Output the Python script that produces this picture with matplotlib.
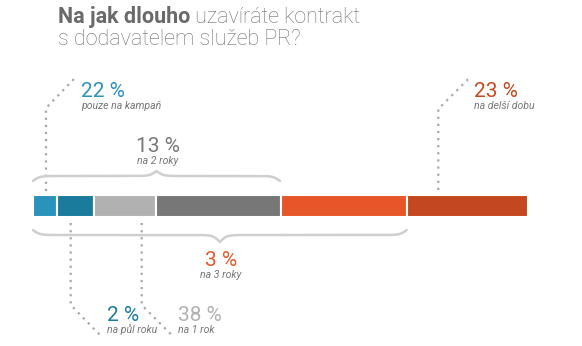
import numpy as np
import matplotlib
matplotlib.use("Agg")
import matplotlib.pyplot as plt

plt.rcParams['font.family'] = ['Roboto', 'DejaVu Sans']

# šířky úseků pruhu (v % délky pruhu) a jejich barvy
segment_widths = [4.8, 7.5, 12.5, 25.2, 25.5, 24.5]
segment_colors = ["#2a93ba", "#1b7b9c", "#b1b1b1", "#777777", "#e65628", "#c4481f"]

# popisky: hodnota, text, barva hodnoty
values = ["22 %", "2 %", "38 %", "13 %", "3 %", "23 %"]
labels = ["pouze na kampaň", "na půl roku", "na 1 rok", "na 2 roky", "na 3 roky", "na delší dobu"]
value_colors = ["#2a93ba", "#1b7b9c", "#b1b1b1", "#777777", "#e65628", "#c4481f"]

W, H = 582, 346
fig = plt.figure(figsize=(W / 100, H / 100), dpi=100)

# pruh
ax = fig.add_axes([33 / W, 0, 495 / W, 1])
ax.set_xlim(0, 100)
ax.set_ylim(H, 0)
ax.axis("off")
lefts = np.concatenate([[0], np.cumsum(segment_widths)[:-1]])
ax.barh(206, segment_widths, left=lefts, height=22, color=segment_colors,
        edgecolor="white", linewidth=1.5)

# vrstva pro texty a čáry (souřadnice v pixelech)
ov = fig.add_axes([0, 0, 1, 1])
ov.set_xlim(0, W)
ov.set_ylim(H, 0)
ov.axis("off")
ov.patch.set_alpha(0)

# nadpis
t1 = ov.text(58, 22.7, "Na jak dlouho", fontsize=15.5, fontweight="bold",
             color="#6a6a6a", va="baseline")
ov.annotate(" uzavíráte kontrakt", xy=(1, 22.7), xycoords=(t1, "data"),
            fontsize=15.5, fontweight="light", color="#707070", va="baseline")
ov.text(58, 45, "s dodavatelem služeb PR?", fontsize=15.5, fontweight="light",
        color="#707070", va="baseline")

dot = dict(color="#a8a8a8", lw=1.6, ls=(0, (1, 2.2)))


def leader(x_bar, y_bar, y_bend, x_end, y_end):
    ov.plot([x_bar, x_bar, x_end], [y_bar, y_bend, y_end], **dot)


def brace(x0, x1, flat, end, tip, beta=0.3):
    n = 601
    xs = np.linspace(x0, x1, n)
    half = xs[: n // 2 + 1]
    yh = (1 / (1 + np.exp(-beta * (half - half[0]))) +
          1 / (1 + np.exp(-beta * (half - half[-1]))))
    yb = np.concatenate([yh, yh[-2::-1]])
    ys = np.where(yb <= 1, flat + (1 - yb) * 2 * (end - flat),
                  flat + (yb - 1) * 2 * (tip - flat))
    ov.plot(xs, ys, color="#cfcfcf", lw=1.8, solid_capstyle="round")


def label(x, y, val, txt, col, ha="left"):
    ov.text(x, y, val, fontsize=15, color=col, ha=ha, va="baseline")
    ov.text(x, y + 12, txt, fontsize=7.6, style="italic", color="#777777",
            ha=ha, va="baseline")


# 22 % pouze na kampaň
leader(46, 191, 108, 75, 78)
label(81, 96.7, values[0], labels[0], value_colors[0])

# 2 % na půl roku
leader(70.7, 223, 305, 100, 335)
label(107, 320.7, values[1], labels[1], value_colors[1])

# 38 % na 1 rok
leader(141.7, 223, 305, 171.7, 335)
label(178, 320.7, values[2], labels[2], value_colors[2])

# 13 % na 2 roky
brace(33, 280, 176, 181, 171)
label(158, 151.7, values[3], labels[3], value_colors[3], ha="center")

# 3 % na 3 roky
brace(33, 406.7, 235, 230, 242)
label(221, 266, values[4], labels[4], value_colors[4], ha="center")

# 23 % na delší dobu
leader(438.3, 190, 109, 468.3, 79)
label(474, 96.7, values[5], labels[5], value_colors[5])

fig.savefig("out.png", dpi=100)
